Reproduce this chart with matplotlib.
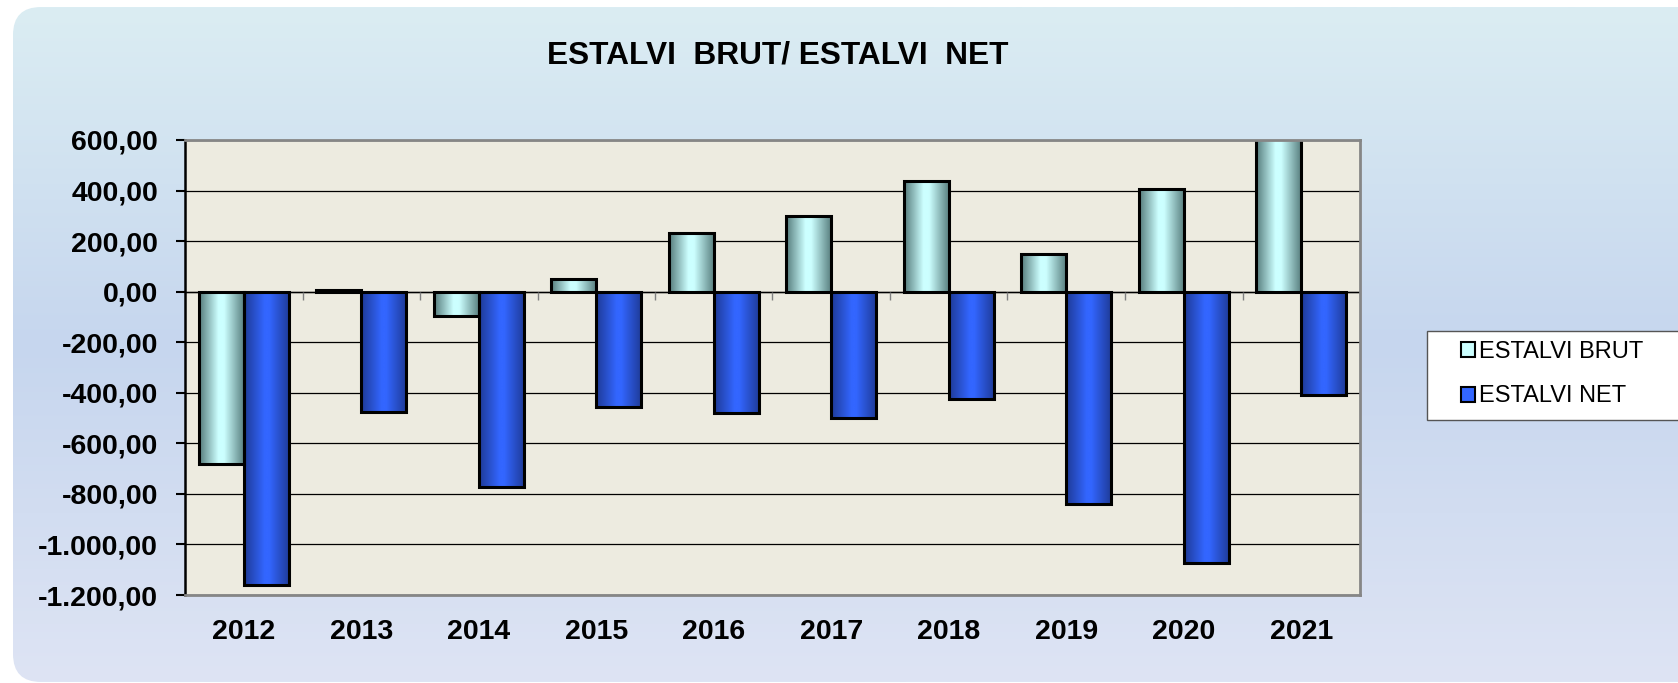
import matplotlib
matplotlib.use("Agg")
import matplotlib.pyplot as plt
import numpy as np
from matplotlib.colors import LinearSegmentedColormap
from matplotlib.patches import FancyBboxPatch, Rectangle, Patch
from matplotlib.ticker import FuncFormatter

plt.rcParams['font.family'] = ['Liberation Sans', 'DejaVu Sans']

# data
years = ['2012', '2013', '2014', '2015', '2016', '2017', '2018', '2019', '2020', '2021']
estalvi_brut = [-680, 5, -97, 50, 232, 299, 438, 149, 406, 620]
estalvi_net = [-1160, -477, -774, -455, -481, -501, -423, -840, -1072, -410]
series_names = ['ESTALVI BRUT', 'ESTALVI NET']
title = 'ESTALVI  BRUT/ ESTALVI  NET'

W, H = 1678, 683
fig = plt.figure(figsize=(W / 100, H / 100), dpi=100)
fig.patch.set_facecolor('white')

# background panel with vertical gradient and rounded left corners
bg = fig.add_axes([0, 0, 1, 1], zorder=-5)
bg.set_xlim(0, W)
bg.set_ylim(H, 0)
bg.axis('off')
bg_cmap = LinearSegmentedColormap.from_list(
    'bg', [(0, '#DBEDF3'), (0.5, '#C6D6EE'), (1, '#DEE4F4')])
grad = np.linspace(0, 1, 256).reshape(-1, 1)
panel = FancyBboxPatch((13, 7), 1750, 675, boxstyle='round,pad=0,rounding_size=28',
                       facecolor='none', edgecolor='none', transform=bg.transData)
bg.add_patch(panel)
im = bg.imshow(grad, cmap=bg_cmap, aspect='auto', extent=(13, 1763, 682, 7))
im.set_clip_path(panel)

ax = fig.add_axes([185 / W, 1 - 595 / H, 1175 / W, 455 / H])
ax.set_facecolor('#EDEBE0')

x = np.arange(len(years))
bw = 0.385
bars_brut = ax.bar(x - bw / 2, estalvi_brut, bw, facecolor='none', edgecolor='black',
                   linewidth=2.2, zorder=4)
bars_net = ax.bar(x + bw / 2, estalvi_net, bw, facecolor='none', edgecolor='black',
                  linewidth=2.2, zorder=4)

cm_brut = LinearSegmentedColormap.from_list(
    'brut', [(0, '#557B7B'), (0.42, '#CCFFFF'), (0.55, '#CCFFFF'), (1, '#557B7B')])
cm_net = LinearSegmentedColormap.from_list(
    'net', [(0, '#1E3A96'), (0.45, '#3366FF'), (0.55, '#3366FF'), (1, '#1E3A96')])
hgrad = np.linspace(0, 1, 128).reshape(1, -1)
for bars, cm in ((bars_brut, cm_brut), (bars_net, cm_net)):
    for b in bars:
        x0, y0 = b.get_x(), b.get_y()
        w, h = b.get_width(), b.get_height()
        gi = ax.imshow(hgrad, cmap=cm, aspect='auto', zorder=3,
                       extent=(x0, x0 + w, min(y0, y0 + h), max(y0, y0 + h)))
        gi.set_clip_path(b)
        gi.set_clip_box(ax.bbox)
        b.set_clip_box(ax.bbox)

ax.set_xlim(-0.5, len(years) - 0.5)
ax.set_ylim(-1200, 600)
ax.set_yticks(np.arange(-1200, 601, 200))


def fmt(v, pos):
    s = '{:,.2f}'.format(abs(v)).replace(',', 'X').replace('.', ',').replace('X', '.')
    return ('-' if v < 0 else '') + s


ax.yaxis.set_major_formatter(FuncFormatter(fmt))
ax.set_xticks(x)
ax.set_xticklabels(years)
ax.grid(axis='y', color='black', linewidth=0.9, zorder=1)
ax.set_axisbelow(True)
ax.axhline(0, color='black', linewidth=1.0, zorder=2)
# category separator ticks hanging from the zero line
ax.vlines(np.arange(0.5, len(years) - 1), -32, 0, color='#808080', linewidth=1.0, zorder=2)

ax.tick_params(axis='y', direction='out', length=6.5, width=1.5, pad=13,
               labelsize=20.5, colors='black')
ax.tick_params(axis='x', length=0, pad=17, labelsize=20.5)
for lab in ax.get_xticklabels() + ax.get_yticklabels():
    lab.set_fontweight('bold')

for side in ('top', 'right', 'bottom'):
    ax.spines[side].set_color('#868686')
    ax.spines[side].set_linewidth(2)
    ax.spines[side].set_zorder(5)
ax.spines['left'].set_color('black')
ax.spines['left'].set_linewidth(1.8)

fig.text(778 / W, 1 - 56 / H, title, ha='center', va='center', fontsize=22.8,
         fontweight='bold')

# legend
fig.patches.append(Rectangle((1427 / W, 1 - 420 / H), 300 / W, 89 / H,
                             transform=fig.transFigure, facecolor='white',
                             edgecolor='#555555', linewidth=1.0, zorder=1))
handles = [Patch(facecolor='#CCFFFF', edgecolor='black', linewidth=1.5),
           Patch(facecolor='#3366FF', edgecolor='black', linewidth=1.5)]
fig.legend(handles, series_names, loc='upper left', frameon=False,
           bbox_to_anchor=(1461 / W, 1 - 341 / H), bbox_transform=fig.transFigure,
           borderpad=0, borderaxespad=0, handlelength=0.6, handleheight=0.6,
           handletextpad=0.15, labelspacing=0.95, fontsize=17)

fig.savefig('out.png', dpi=100)
